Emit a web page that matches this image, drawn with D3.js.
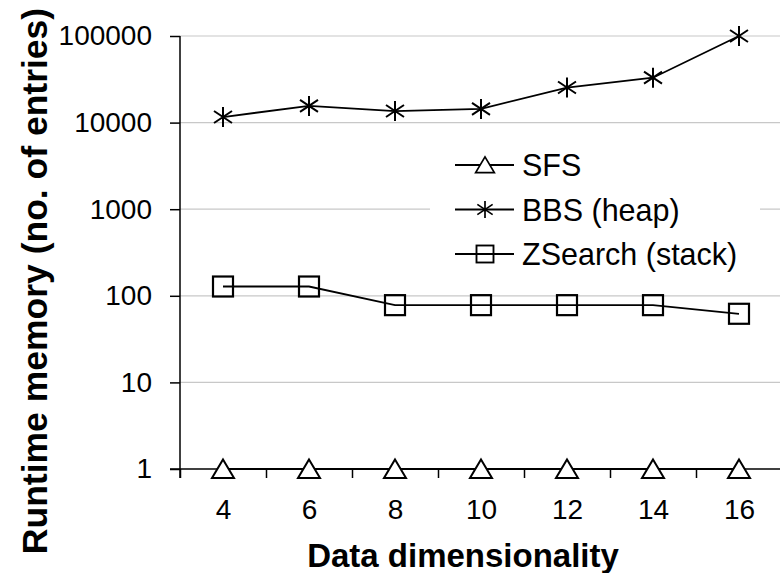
<meta charset="utf-8">
<title>Runtime memory</title>
<script src="https://d3js.org/d3.v7.min.js"></script>
<style>
  body { margin: 0; background: #fff; }
  text { font-family: "Liberation Sans", Arial, sans-serif; fill: #000; }
</style>
<body>
<svg width="780" height="573"></svg>
<script>
  // values
  const dims = [4, 6, 8, 10, 12, 14, 16]
  const sfs = [1, 1, 1, 1, 1, 1, 1]
  const bbs = [11600, 15600, 13600, 14400, 25400, 33000, 100000]
  const zsearch = [128, 128, 78, 78, 78, 78, 62]
  const yTicks = [1, 10, 100, 1000, 10000, 100000]
  const seriesNames = ['SFS', 'BBS (heap)', 'ZSearch (stack)']

  const svg = d3.select('svg')

  const x = d3.scaleLinear().domain([3, 17]).range([180, 782])
  const y = d3.scaleLog().domain([1, 100000]).range([469, 36])

  // grid
  svg.append('g')
    .selectAll('line')
    .data(yTicks.filter(d => d > 1))
    .join('line')
    .attr('x1', x(3)).attr('x2', x(17))
    .attr('y1', d => y(d)).attr('y2', d => y(d))
    .attr('stroke', '#c8c8c8').attr('stroke-width', 1.2)

  // y axis
  const yAxis = svg.append('g')
    .attr('transform', `translate(${x(3)},0)`)
    .call(d3.axisLeft(y).tickValues(yTicks).tickFormat(d3.format('d')).tickSize(10).tickPadding(18))
  yAxis.select('.domain').attr('d', `M0,${y(100000)}V478`).attr('stroke-width', 1.5)
  yAxis.selectAll('.tick line').attr('stroke-width', 1.5)
  yAxis.selectAll('text').attr('font-size', 28).attr('fill', '#111')

  // x axis: labels at categories, ticks between them
  const xAxis = svg.append('g')
    .attr('transform', `translate(0,${y(1)})`)
    .call(d3.axisBottom(x).tickValues(dims).tickSize(0).tickPadding(50))
  xAxis.select('.domain').remove()
  xAxis.selectAll('text').attr('font-size', 28).attr('fill', '#111').attr('dy', 0)

  const xTicks = svg.append('g')
    .attr('transform', `translate(0,${y(1)})`)
    .call(d3.axisBottom(x).tickValues(d3.range(3, 18, 2)).tickSize(9).tickFormat(''))
  xTicks.select('.domain').attr('d', `M170,0H${x(17)}`).attr('stroke-width', 1.5)
  xTicks.selectAll('.tick line').attr('stroke-width', 1.5)

  // axis titles
  svg.append('text')
    .attr('x', 463).attr('y', 567)
    .attr('text-anchor', 'middle')
    .attr('font-size', 33).attr('font-weight', 'bold')
    .text('Data dimensionality')

  svg.append('text')
    .attr('transform', 'translate(47,281) rotate(-90)')
    .attr('text-anchor', 'middle')
    .attr('font-size', 35.5).attr('font-weight', 'bold')
    .text('Runtime memory (no. of entries)')

  // markers
  const triangle = g => g.append('path')
    .attr('d', 'M0,-9.5L11,9L-11,9Z')
    .attr('fill', '#fff').attr('stroke', '#000').attr('stroke-width', 2)
  const star = g => g.append('path')
    .attr('d', 'M0,-10V10M-9,-6L9,6M-9,6L9,-6')
    .attr('fill', 'none').attr('stroke', '#000').attr('stroke-width', 2)
  const square = g => g.append('rect')
    .attr('x', -10).attr('y', -10).attr('width', 20).attr('height', 20)
    .attr('fill', 'none').attr('stroke', '#000').attr('stroke-width', 2.2)
  const markers = [triangle, star, square]

  const line = d3.line().x((d, i) => x(dims[i])).y(d => y(d))

  const allSeries = [sfs, bbs, zsearch]
  allSeries.forEach((vals, s) => {
    svg.append('path')
      .attr('d', line(vals))
      .attr('fill', 'none').attr('stroke', '#000').attr('stroke-width', 1.8)
    vals.forEach((v, i) => {
      const g = svg.append('g').attr('transform', `translate(${x(dims[i])},${y(v)})`)
      markers[s](g)
    })
  })

  // legend
  const legend = svg.append('g').attr('transform', 'translate(430,140)')
  legend.append('rect').attr('width', 330).attr('height', 140).attr('fill', '#fff')
  seriesNames.forEach((name, i) => {
    const row = legend.append('g').attr('transform', `translate(0,${25 + i * 44.5})`)
    row.append('line').attr('x1', 25).attr('x2', 84)
      .attr('stroke', '#000').attr('stroke-width', 1.8)
    const m = row.append('g').attr('transform', 'translate(55,0) scale(0.85)')
    markers[i](m)
    row.append('text').attr('x', 92).attr('y', 11)
      .attr('font-size', 30.5).text(name)
  })
</script>
</body>
